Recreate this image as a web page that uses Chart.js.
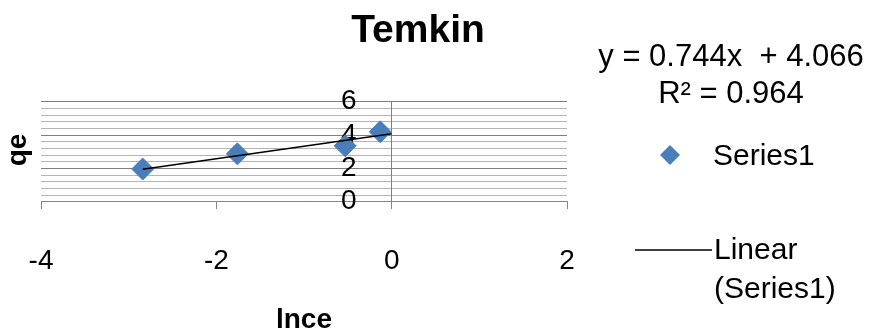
<!DOCTYPE html>
<html>
<head>
<meta charset="utf-8">
<script src="https://cdn.jsdelivr.net/npm/chart.js@4"></script>
<style>
  body { margin: 0; background: #fff; }
  canvas { display: block; }
</style>
</head>
<body>
<canvas id="temkinChart" width="870" height="334"></canvas>
<script>
// values
const lnCe = [-2.84, -1.76, -0.53, -0.13];
const qe = [1.96, 2.87, 3.35, 4.19];
const trendX = [-2.84, 0];
const trendY = [1.95, 4.07];
const xTickValues = [-4, -2, 0, 2];
const yTickValues = [0, 2, 4, 6];
const equationText = ['y = 0.744x  + 4.066', 'R\u00b2 = 0.964'];

const blue = '#4a7ebb';
const FONT = '"Liberation Sans", Arial, sans-serif';

function isMajor(v) {
    return yTickValues.some(t => Math.abs(t - v) < 1e-6);
}

// texts that sit outside the plot: title, axis titles, equation, legend
const textPlugin = {
    id: 'textPlugin',
    afterDraw(chart) {
        const ctx = chart.ctx;
        ctx.save();
        ctx.fillStyle = '#000';
        ctx.textBaseline = 'middle';

        ctx.font = 'bold 39px ' + FONT;
        ctx.textAlign = 'center';
        ctx.fillText('Temkin', 418, 31);

        ctx.font = 'bold 28px ' + FONT;
        ctx.fillText('lnce', 304, 320);
        ctx.save();
        ctx.translate(18, 150);
        ctx.rotate(-Math.PI / 2);
        ctx.fillText('qe', 0, 0);
        ctx.restore();

        ctx.font = '31px ' + FONT;
        ctx.fillText(equationText[0], 731, 57);
        ctx.fillText(equationText[1], 731, 94);

        // legend
        ctx.fillStyle = blue;
        ctx.beginPath();
        ctx.moveTo(660, 155);
        ctx.lineTo(670, 145);
        ctx.lineTo(680, 155);
        ctx.lineTo(670, 165);
        ctx.closePath();
        ctx.fill();

        ctx.strokeStyle = '#000';
        ctx.lineWidth = 1.5;
        ctx.beginPath();
        ctx.moveTo(635, 250);
        ctx.lineTo(712, 250);
        ctx.stroke();

        ctx.font = '30px ' + FONT;
        ctx.fillStyle = '#000';
        ctx.textAlign = 'left';
        ctx.fillText('Series1', 713, 157);
        ctx.fillText('Linear', 714, 251);
        ctx.fillText('(Series1)', 714, 290);
        ctx.restore();
    }
};

const ctx = document.getElementById('temkinChart').getContext('2d');
new Chart(ctx, {
    type: 'scatter',
    data: {
        datasets: [{
            label: 'Linear (Series1)',
            data: trendX.map((x, i) => ({ x: x, y: trendY[i] })),
            showLine: true,
            borderColor: '#000',
            borderWidth: 1.5,
            pointRadius: 0,
            order: 0
        }, {
            label: 'Series1',
            data: lnCe.map((x, i) => ({ x: x, y: qe[i] })),
            pointStyle: 'rectRot',
            pointRadius: 11,
            backgroundColor: blue,
            borderColor: blue,
            borderWidth: 1,
            order: 1
        }]
    },
    options: {
        responsive: false,
        devicePixelRatio: 1,
        animation: false,
        layout: {
            padding: { left: 41, right: 303, top: 101.7, bottom: 0 }
        },
        plugins: {
            legend: { display: false },
            title: { display: false },
            tooltip: { enabled: false }
        },
        scales: {
            x: {
                type: 'linear',
                position: 'bottom',
                min: xTickValues[0],
                max: xTickValues[xTickValues.length - 1],
                afterBuildTicks: function(scale) {
                    scale.ticks = xTickValues.map(v => ({ value: v }));
                },
                afterFit: function(scale) {
                    scale.height = 132.3;
                },
                ticks: {
                    color: '#000',
                    font: { family: FONT, size: 28 },
                    padding: 0
                },
                grid: {
                    drawOnChartArea: false,
                    drawTicks: true,
                    tickLength: 43,
                    tickBorderDash: [7, 200],
                    color: '#868686'
                },
                border: { color: '#868686' }
            },
            y: {
                type: 'linear',
                position: { x: 0 },
                min: 0,
                max: 6,
                ticks: {
                    stepSize: 0.4,
                    autoSkip: false,
                    display: false
                },
                grid: {
                    drawTicks: false,
                    color: (c) => isMajor(c.tick.value) ? '#7e7e7e' : '#b4b4b4'
                },
                border: { color: '#808080' }
            },
            yLabels: {
                type: 'linear',
                axis: 'y',
                position: { x: -0.4 },
                min: 0,
                max: 6,
                afterBuildTicks: function(scale) {
                    scale.ticks = yTickValues.map(v => ({ value: v }));
                },
                ticks: {
                    color: '#000',
                    font: { family: FONT, size: 28 },
                    padding: 0,
                    autoSkip: false
                },
                grid: { display: false, drawTicks: false },
                border: { display: false }
            }
        }
    },
    plugins: [textPlugin]
});
</script>
</body>
</html>
